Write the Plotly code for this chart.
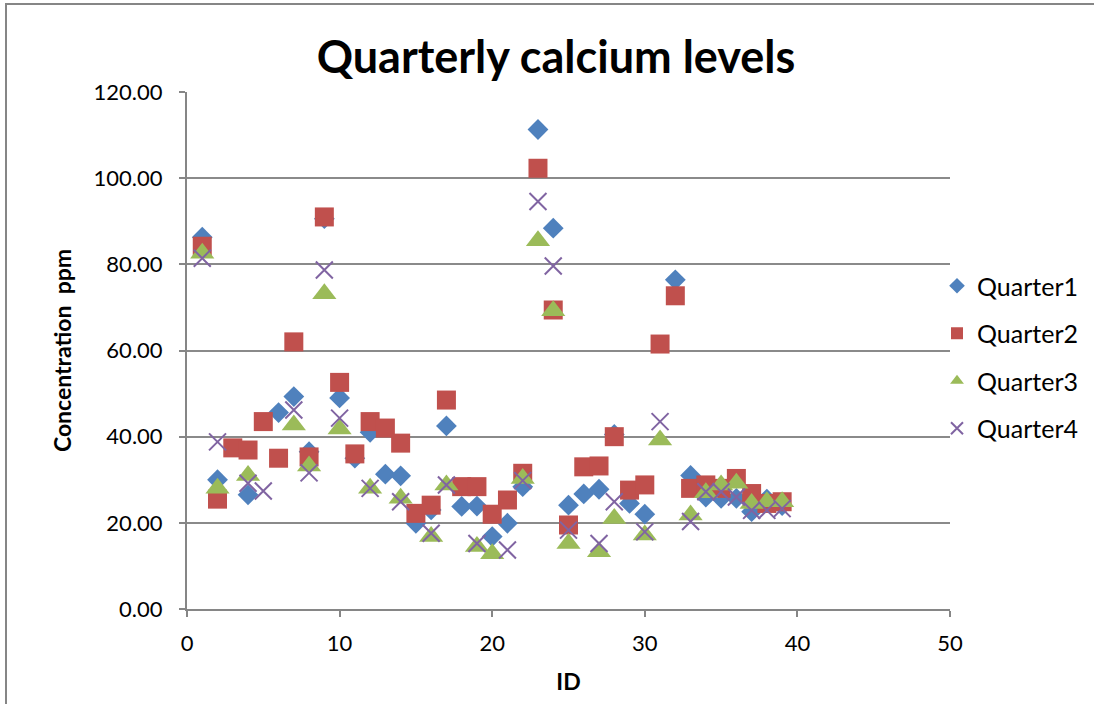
import plotly.graph_objects as go

ids = list(range(1, 40))
quarter1 = [86.3, 30.0, None, 26.5, None, 45.6, 49.3, 36.5, 90.6, 49.0,
            35.0, 41.0, 31.3, 30.9, 19.9, 23.0, 42.5, 23.8, 23.9, 16.8,
            19.9, 28.4, 111.3, 88.4, 24.1, 26.7, 27.8, 40.5, 24.5, 22.0,
            None, 76.4, 31.0, 26.0, 25.7, 25.7, 22.6, 25.5, 24.0]
quarter2 = [84.2, 25.5, 37.4, 36.9, 43.5, 35.0, 62.0, 35.3, 91.0, 52.6,
            36.0, 43.5, 42.0, 38.5, 22.2, 24.1, 48.5, 28.4, 28.4, 22.0,
            25.3, 31.5, 102.3, 69.4, 19.5, 33.0, 33.2, 40.0, 27.6, 28.8,
            61.5, 72.7, 28.0, 28.8, 28.0, 30.3, 26.8, 24.5, 24.9]
quarter3 = [82.6, 28.0, None, 31.0, None, None, 42.7, 33.2, 73.2, 41.8,
            None, 28.0, None, 25.7, None, 16.8, 28.8, None, 14.5, 12.8,
            None, 30.3, 85.5, 69.2, 15.2, None, 13.3, 21.0, None, 17.2,
            39.2, None, 21.8, 27.0, 28.8, 29.2, 24.5, 24.9, 24.9]
quarter4 = [81.4, 38.8, None, 29.2, 27.4, None, 46.2, 31.6, 78.7, 44.3,
            None, 28.0, None, 24.9, None, 17.6, 28.8, None, 15.2, None,
            13.7, 29.8, 94.6, 79.6, 18.3, None, 15.2, 24.9, None, 17.9,
            43.5, None, 20.3, 27.2, 27.2, 26.0, 22.9, 22.9, 23.3]

series_names = ["Quarter1", "Quarter2", "Quarter3", "Quarter4"]
x_ticks = [0, 10, 20, 30, 40, 50]
y_ticks = [0, 20, 40, 60, 80, 100, 120]

FONT = "Lato"
W, H = 1094, 704
L, R, T, B = 187, 950, 92, 609
pw, ph = R - L, B - T

def px(x):
    return (x - L) / pw

def py(y):
    return (B - y) / ph

fig = go.Figure()
styles = [
    dict(symbol="diamond", size=16, color="#4F81BD"),
    dict(symbol="square", size=19, color="#C0504D"),
    dict(symbol="triangle-up", size=21, color="#9BBB59"),
    dict(symbol="x-thin", size=17, color="#8064A2", line=dict(width=2, color="#8064A2")),
]
for name, vals, st in zip(series_names, [quarter1, quarter2, quarter3, quarter4], styles):
    fig.add_trace(go.Scatter(
        x=ids, y=vals, mode="markers", name=name, legendgroup=name,
        marker=dict(**st), cliponaxis=False,
    ))

fig.update_layout(
    width=W, height=H,
    margin=dict(l=L, r=W - R, t=T, b=H - B, autoexpand=False),
    paper_bgcolor="white", plot_bgcolor="white",
    font=dict(family=FONT, size=22, color="black"),
    title=dict(text="<b>Quarterly calcium levels</b>", x=556 / W, xanchor="center",
               y=1 - 57 / H, yanchor="middle", font=dict(family=FONT, size=45, color="black")),
    showlegend=True,
    legend=dict(x=px(937), xanchor="left", y=py(357), yanchor="middle",
                font=dict(family=FONT, size=25, color="black"),
                traceorder="grouped", tracegroupgap=12, bgcolor="rgba(0,0,0,0)",
                itemsizing="constant"),
    xaxis=dict(range=[0, 50], tickvals=x_ticks, showgrid=False, zeroline=False,
               showline=True, linecolor="#868686", linewidth=2,
               ticks="outside", ticklen=6, tickwidth=2, tickcolor="#868686",
               ticklabelstandoff=8,
               tickfont=dict(family=FONT, size=22, color="black"),
               title=dict(text="<b>ID</b>", font=dict(family=FONT, size=23, color="black"), standoff=18)),
    yaxis=dict(range=[0, 120], tickvals=y_ticks, tickformat=".2f", showgrid=True,
               gridcolor="#8a8a8a", gridwidth=1.5, zeroline=False,
               showline=True, linecolor="#868686", linewidth=2,
               ticks="outside", ticklen=6, tickwidth=2, tickcolor="#868686",
               ticklabelstandoff=12,
               tickfont=dict(family=FONT, size=22, color="black"),
               title=dict(text="<b>Concentration  ppm</b>", font=dict(family=FONT, size=23, color="black"), standoff=16)),
    shapes=[dict(type="rect", xref="paper", yref="paper",
                 x0=px(6), x1=px(1100), y0=py(4), y1=py(712),
                 line=dict(color="#868686", width=2), layer="below")],
)

fig.write_html("out.html")
